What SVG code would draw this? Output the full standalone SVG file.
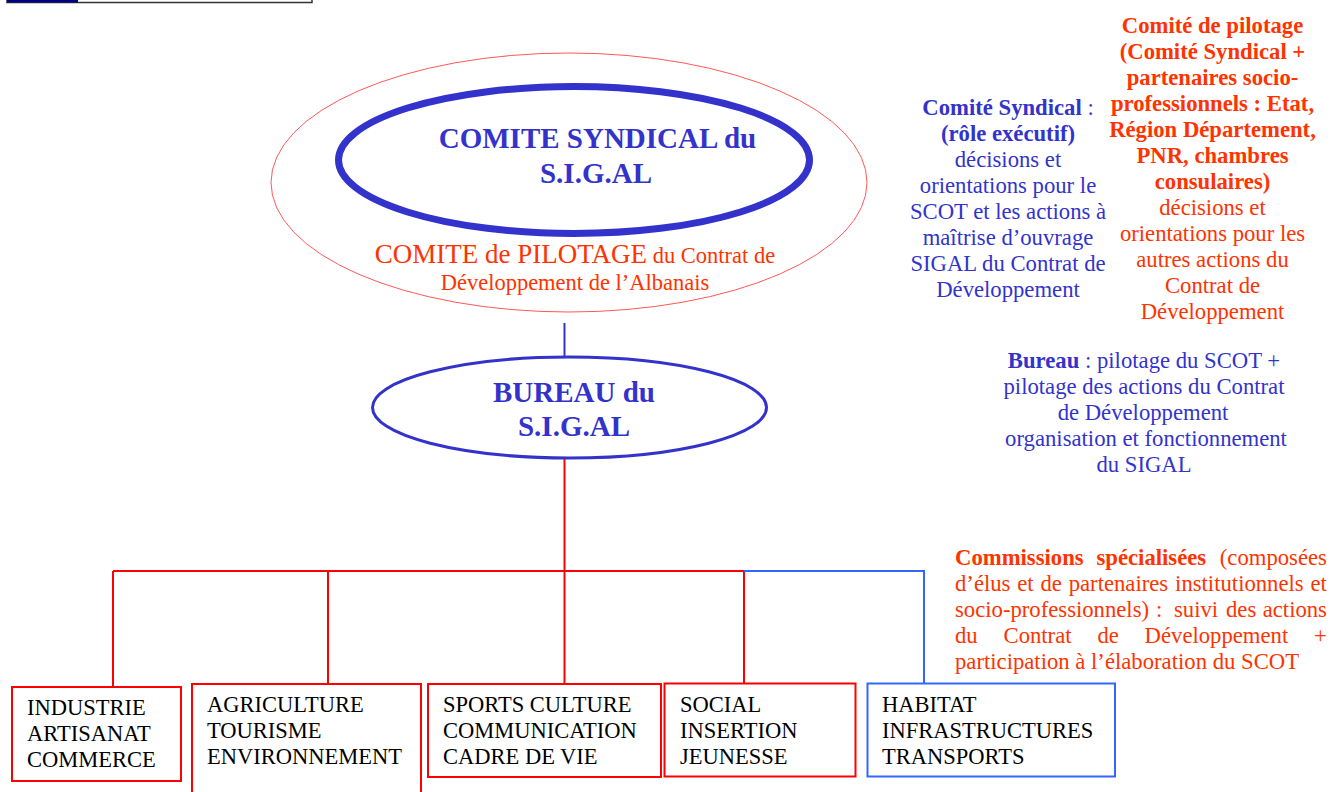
<svg xmlns="http://www.w3.org/2000/svg" width="1331" height="792" viewBox="0 0 1331 792">
<style>
text{font-family:"Liberation Serif","Times New Roman",serif;}
.b{font-weight:bold;}
.blue{fill:#3333CC;}
.red{fill:#FF3300;}
.blk{fill:#000000;font-size:22.5px;}
.t{font-size:22.7px;}
.mid{text-anchor:middle;}
.rbox{fill:#FFFFFF;stroke:#FF0000;stroke-width:2;}
.bbox{fill:#FFFFFF;stroke:#3366FF;stroke-width:2;}
.rl{stroke:#FF0000;stroke-width:2;fill:none;}
.bl{stroke:#3366FF;stroke-width:2;fill:none;}
</style>
<rect width="1331" height="792" fill="#FFFFFF"/>
<g id="header-bar">
<rect x="7" y="-20" width="305" height="22.5" fill="#FFFFFF" stroke="#333333" stroke-width="1.5"/>
<rect x="7" y="-20" width="71" height="22.5" fill="#000080"/>
</g>
<g id="connectors">
<line x1="564.5" y1="323" x2="564.5" y2="357" stroke="#3333CC" stroke-width="2"/>
<line class="rl" x1="564.5" y1="458" x2="564.5" y2="684"/>
<line class="rl" x1="113" y1="571" x2="744" y2="571"/>
<line class="rl" x1="113" y1="571" x2="113" y2="687"/>
<line class="rl" x1="328" y1="571" x2="328" y2="684"/>
<line class="rl" x1="744" y1="571" x2="744" y2="684"/>
<polyline class="bl" points="744,571 924,571 924,683"/>
</g>
<g id="comite-pilotage">
<ellipse cx="569" cy="182.5" rx="298" ry="129.5" fill="none" stroke="#FF4444" stroke-width="0.9"/>
<text class="red mid" x="575" y="263"><tspan font-size="27">COMITE de PILOTAGE</tspan><tspan font-size="22.5"> du Contrat de</tspan></text>
<text class="red mid" x="575" y="290" font-size="22.5">Développement de l’Albanais</text>
</g>
<g id="comite-syndical">
<ellipse cx="574" cy="160" rx="235.5" ry="73.5" fill="none" stroke="#3333CC" stroke-width="7"/>
<text class="blue b mid" x="597.5" y="148" font-size="29">COMITE SYNDICAL du</text>
<text class="blue b mid" x="596" y="183" font-size="29">S.I.G.AL</text>
</g>
<g id="bureau">
<ellipse cx="569.5" cy="407.5" rx="197" ry="50.5" fill="#FFFFFF" stroke="#3333CC" stroke-width="3"/>
<text class="blue b mid" x="574" y="402" font-size="29">BUREAU du</text>
<text class="blue b mid" x="574" y="436" font-size="29">S.I.G.AL</text>
</g>
<g id="note-comite-syndical" class="t">
<text class="blue mid t" x="1008" y="115"><tspan class="b">Comité Syndical</tspan> :</text>
<text class="blue mid t b" x="1008" y="141">(rôle exécutif)</text>
<text class="blue mid t" x="1008" y="167">décisions et</text>
<text class="blue mid t" x="1008" y="193">orientations pour le</text>
<text class="blue mid t" x="1008" y="219">SCOT et les actions à</text>
<text class="blue mid t" x="1008" y="245">maîtrise d’ouvrage</text>
<text class="blue mid t" x="1008" y="271">SIGAL du Contrat de</text>
<text class="blue mid t" x="1008" y="297">Développement</text>
</g>
<g id="note-comite-pilotage">
<text class="red mid t b" x="1212.5" y="33">Comité de pilotage</text>
<text class="red mid t b" x="1212.5" y="59">(Comité Syndical +</text>
<text class="red mid t b" x="1212.5" y="85">partenaires socio-</text>
<text class="red mid t b" x="1212.5" y="111">professionnels : Etat,</text>
<text class="red mid t b" x="1212.5" y="137">Région Département,</text>
<text class="red mid t b" x="1212.5" y="163">PNR, chambres</text>
<text class="red mid t b" x="1212.5" y="189">consulaires)</text>
<text class="red mid t" x="1212.5" y="215">décisions et</text>
<text class="red mid t" x="1212.5" y="241">orientations pour les</text>
<text class="red mid t" x="1212.5" y="267">autres actions du</text>
<text class="red mid t" x="1212.5" y="293">Contrat de</text>
<text class="red mid t" x="1212.5" y="319">Développement</text>
</g>
<g id="note-bureau">
<text class="blue mid t" x="1144" y="368"><tspan class="b">Bureau</tspan> : pilotage du SCOT +</text>
<text class="blue mid t" x="1144" y="394">pilotage des actions du Contrat</text>
<text class="blue mid t" x="1143" y="420">de Développement</text>
<text class="blue mid t" x="1146" y="446">organisation et fonctionnement</text>
<text class="blue mid t" x="1144" y="472">du SIGAL</text>
</g>
<g id="note-commissions">
<text class="red t" y="565"><tspan class="b" x="955">Commissions</tspan><tspan class="b" x="1096.5">spécialisées</tspan><tspan x="1219.8">(composées</tspan></text>
<text class="red t" y="591"><tspan x="955">d’élus</tspan><tspan x="1017.3">et</tspan><tspan x="1040.5">de</tspan><tspan x="1068.7">partenaires</tspan><tspan x="1175.1">institutionnels</tspan><tspan x="1310.5">et</tspan></text>
<text class="red t" y="617"><tspan x="955">socio-professionnels)</tspan><tspan x="1156">:</tspan><tspan x="1174">suivi</tspan><tspan x="1226">des</tspan><tspan x="1262.7">actions</tspan></text>
<text class="red t" y="643"><tspan x="955">du</tspan><tspan x="1003.5">Contrat</tspan><tspan x="1097.4">de</tspan><tspan x="1144.6">Développement</tspan><tspan x="1314.1">+</tspan></text>
<text class="red t" x="955" y="669">participation à l’élaboration du SCOT</text>
</g>
<g id="box-industrie">
<rect class="rbox" x="12" y="687" width="169" height="94"/>
<text class="blk" x="27" y="715">INDUSTRIE</text>
<text class="blk" x="27" y="741">ARTISANAT</text>
<text class="blk" x="27" y="767">COMMERCE</text>
</g>
<g id="box-agriculture">
<rect class="rbox" x="192" y="684" width="229" height="130"/>
<text class="blk" x="207" y="712">AGRICULTURE</text>
<text class="blk" x="207" y="738">TOURISME</text>
<text class="blk" x="207" y="764">ENVIRONNEMENT</text>
</g>
<g id="box-sports">
<rect class="rbox" x="428" y="684" width="233" height="93"/>
<text class="blk" x="443" y="712">SPORTS CULTURE</text>
<text class="blk" x="443" y="738">COMMUNICATION</text>
<text class="blk" x="443" y="764">CADRE DE VIE</text>
</g>
<g id="box-social">
<rect class="rbox" x="664.5" y="683.5" width="191" height="93"/>
<text class="blk" x="680" y="712">SOCIAL</text>
<text class="blk" x="680" y="738">INSERTION</text>
<text class="blk" x="680" y="764">JEUNESSE</text>
</g>
<g id="box-habitat">
<rect class="bbox" x="867.5" y="683.5" width="247.5" height="93"/>
<text class="blk" x="882" y="712">HABITAT</text>
<text class="blk" x="882" y="738">INFRASTRUCTURES</text>
<text class="blk" x="882" y="764">TRANSPORTS</text>
</g>
</svg>
